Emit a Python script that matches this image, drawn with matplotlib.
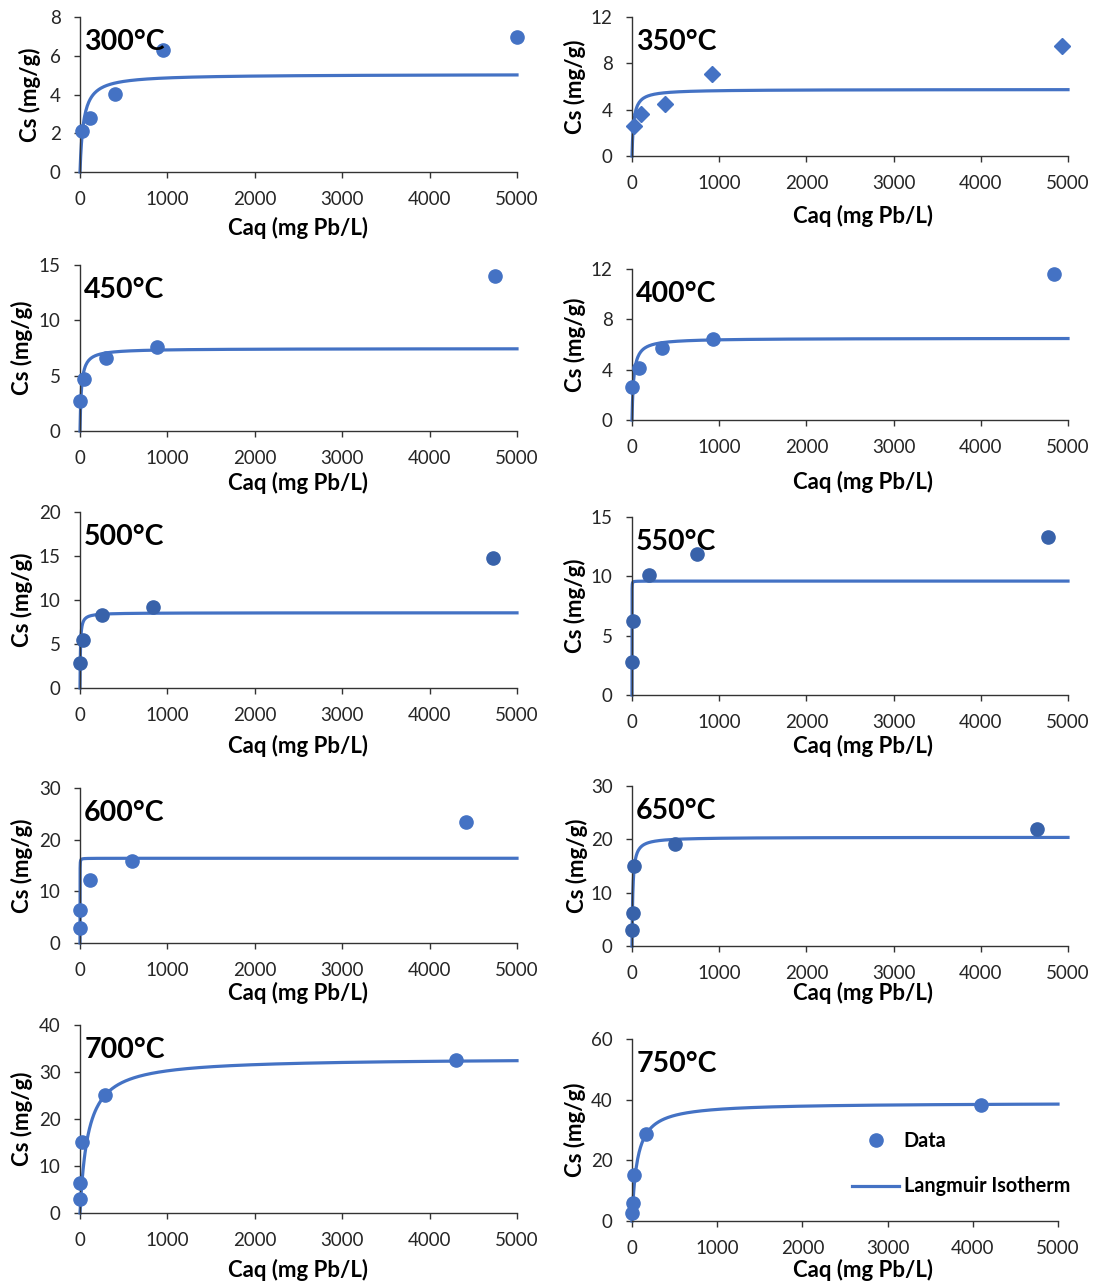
import numpy as np
import matplotlib
matplotlib.use("Agg")
import matplotlib.pyplot as plt
from matplotlib.lines import Line2D

plt.rcParams['font.family'] = ['Lato', 'DejaVu Sans']

W, H = 1099, 1286

temps = ["300°C", "350°C", "450°C", "400°C", "500°C",
         "550°C", "600°C", "650°C", "700°C", "750°C"]

# measured points: aqueous Pb (mg/L) vs sorbed Pb (mg/g)
caq = [
    [20, 120, 400, 950, 5000],
    [20, 100, 380, 920, 4930],
    [5, 50, 300, 880, 4750],
    [5, 80, 340, 930, 4840],
    [5, 30, 250, 840, 4720],
    [5, 10, 200, 750, 4770],
    [5, 5, 120, 600, 4420],
    [5, 10, 20, 490, 4640],
    [5, 5, 20, 290, 4300],
    [5, 10, 20, 170, 4100],
]
cs = [
    [2.1, 2.8, 4.05, 6.3, 6.95],
    [2.6, 3.6, 4.5, 7.1, 9.5],
    [2.7, 4.7, 6.6, 7.6, 14.0],
    [2.6, 4.1, 5.7, 6.4, 11.6],
    [2.8, 5.5, 8.3, 9.2, 14.8],
    [2.8, 6.2, 10.1, 11.9, 13.3],
    [2.9, 6.4, 12.1, 15.9, 23.4],
    [3.0, 6.1, 15.0, 19.1, 22.0],
    [2.9, 6.3, 15.2, 25.2, 32.5],
    [2.5, 5.9, 15.2, 28.8, 38.2],
]

# fitted Langmuir parameters
qmax = [5.05, 5.75, 7.45, 6.5, 8.55, 9.6, 16.4, 20.4, 33.0, 39.0]
k_l = [0.025, 0.05, 0.06, 0.05, 0.2, 10.0, 5.0, 0.1, 0.011, 0.0166]

y_max = [8, 12, 15, 12, 20, 15, 30, 30, 40, 60]
y_step = [2, 4, 5, 4, 5, 5, 10, 10, 10, 20]

blue = "#4472C4"
dark = "#3862AA"
point_color = [blue, blue, blue, blue, dark, dark, blue, dark, blue, blue]
point_marker = ["o", "D", "o", "o", "o", "o", "o", "o", "o", "o"]

# axes boxes in pixels: x0, x1, y_top, y_bottom, xlabel offset below axis, ylabel x
boxes = [
    (80, 517, 17, 172, 56, 30),
    (632, 1068, 17, 156, 60, 575),
    (80, 517, 265, 431, 52, 22),
    (632, 1068, 269, 420, 62, 575),
    (80, 517, 512, 688, 58, 22),
    (632, 1068, 517, 695, 51, 575),
    (80, 517, 788, 943, 50, 22),
    (632, 1068, 786, 946, 47, 577),
    (80, 517, 1025, 1213, 57, 22),
    (632, 1058, 1039, 1221, 49, 575),
]

fig = plt.figure(figsize=(W / 100, H / 100), dpi=100)
xfit = np.concatenate([np.linspace(0, 50, 400), np.linspace(50, 5000, 600)])

for i in range(10):
    x0, x1, yt, yb, xl_off, ylx = boxes[i]
    left = x0 < 300
    ax = fig.add_axes([x0 / W, 1 - yb / H, (x1 - x0) / W, (yb - yt) / H])
    ax.patch.set_alpha(0)
    fit = qmax[i] * k_l[i] * xfit / (1 + k_l[i] * xfit)
    ax.plot(xfit, fit, color=blue, lw=2.3, zorder=2, clip_on=False)
    ms = 8 if point_marker[i] == "D" else 9.5
    ax.plot(caq[i], cs[i], ls="none", marker=point_marker[i], ms=ms,
            color=point_color[i], mec=point_color[i], zorder=3, clip_on=False)
    ax.set_xlim(0, 5000)
    ax.set_ylim(0, y_max[i])
    ax.set_xticks(np.arange(0, 5001, 1000))
    ax.set_yticks(np.arange(0, y_max[i] + 0.1, y_step[i]))
    for s in ("top", "right"):
        ax.spines[s].set_visible(False)
    for s in ("left", "bottom"):
        ax.spines[s].set_color("#333333")
        ax.spines[s].set_linewidth(1.0)
    ax.tick_params(axis="both", direction="out", length=4, width=1,
                   color="#333333", labelsize=13.5, labelcolor="#262626", pad=10)
    ax.set_xlabel("Caq (mg Pb/L)", fontsize=16, fontweight="bold")
    ax.set_ylabel("Cs (mg/g)", fontsize=16, fontweight="bold")
    xlc = 298 if left else 863
    ax.xaxis.set_label_coords((xlc - x0) / (x1 - x0), -xl_off / (yb - yt),
                              transform=ax.transAxes)
    ax.yaxis.set_label_coords((ylx - x0) / (x1 - x0), 0.5, transform=ax.transAxes)
    ax.xaxis.label.set_va("center")
    ax.yaxis.label.set_va("center")
    ax.annotate(temps[i], xy=(0, 1), xycoords="axes fraction",
                xytext=(3, -18), textcoords="offset points",
                fontsize=20.5, fontweight="bold", va="center", ha="left")

    if i == 9:
        handles = [
            Line2D([], [], ls="none", marker="o", ms=9.5, color=blue),
            Line2D([], [], color=blue, lw=2.3),
        ]
        ax.legend(handles, ["Data", "Langmuir Isotherm"], loc="center left",
                  bbox_to_anchor=(0.475, 0.315), frameon=False, handlelength=2.4,
                  handletextpad=0.22, labelspacing=1.3,
                  prop={"size": 14.2, "weight": "bold"})

fig.savefig("out.png", dpi=100)
